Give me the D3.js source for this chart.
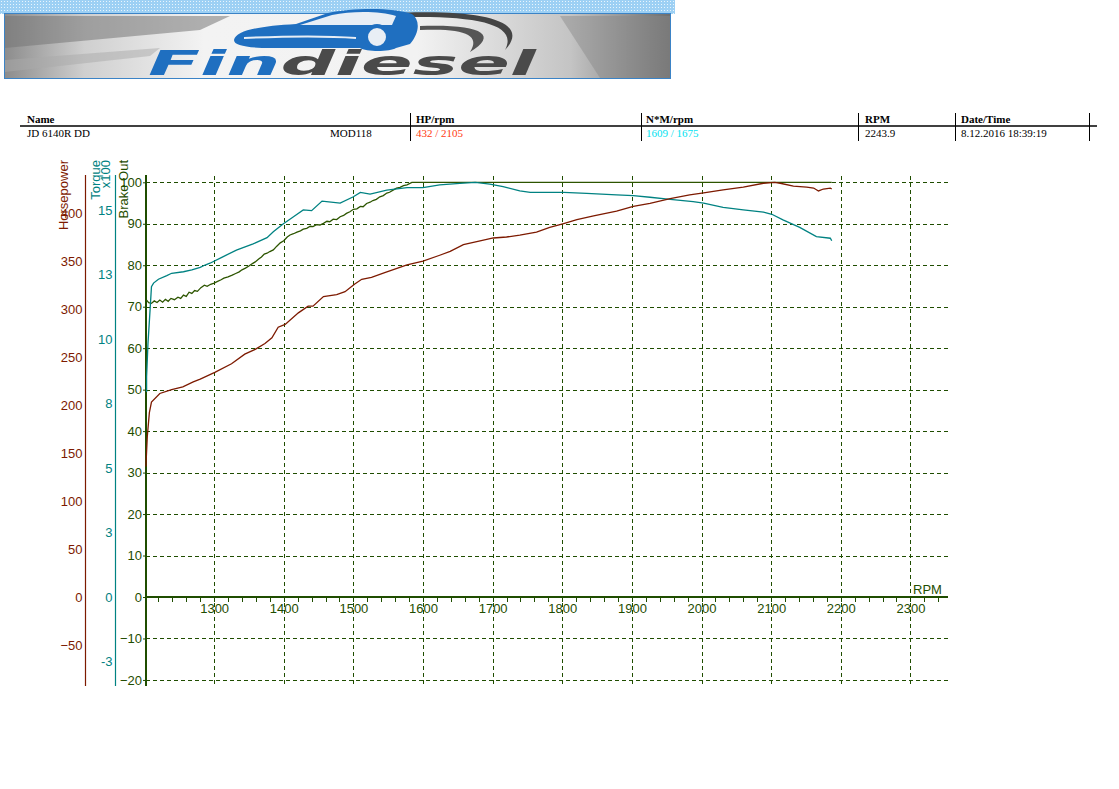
<!DOCTYPE html>
<html lang="en">
<head>
  <meta charset="utf-8">
  <title>Findiesel dyno run</title>
  <script src="https://d3js.org/d3.v7.min.js"></script>
  <style>
    body { margin: 0; background: #fff; }
    svg text { font-family: "Liberation Sans", Arial, sans-serif; }
    .hdr text { font-family: "Liberation Serif", "Times New Roman", serif; font-size: 11px; }
  </style>
</head>
<body>
<script>
// header table
var headCols = ['Name', 'HP/rpm', 'N*M/rpm', 'RPM', 'Date/Time'];
var rowVals = ['JD 6140R DD', '432 / 2105', '1609 / 1675', '2243.9', '8.12.2016 18:39:19'];
var rowModel = 'MOD118';

// horsepower curve (rpm, hp)
var hpRpm = [1202, 1204, 1207, 1210, 1222, 1239, 1255, 1270, 1280, 1301, 1325, 1344, 1359, 1373, 1383, 1392, 1402,
  1421, 1435, 1442, 1457, 1476, 1488, 1502, 1512, 1526, 1545, 1577, 1600, 1624, 1639, 1658, 1682, 1701, 1720,
  1739, 1763, 1782, 1802, 1821, 1845, 1878, 1902, 1926, 1955, 1983, 2003, 2031, 2060, 2089, 2105, 2113, 2132,
  2151, 2161, 2168, 2175, 2185, 2187];
var hpVals = [136, 167, 192, 203, 212, 216, 219, 224, 227, 234, 243, 253, 258, 264, 270, 281, 284,
  296, 303, 303, 313, 315, 318, 326, 331, 333, 338, 346, 350, 356, 360, 367, 371, 374, 375,
  377, 380, 385, 389, 393, 397, 402, 407, 410, 415, 419, 421, 424, 427, 431, 432, 431, 428,
  427, 426, 423, 425, 426, 425];

// torque curve (rpm, Nm)
var tqRpm = [1203, 1203, 1205, 1208, 1210, 1213, 1220, 1232, 1239, 1256, 1268, 1280, 1287, 1294, 1311, 1332,
  1356, 1376, 1385, 1399, 1414, 1428, 1440, 1455, 1481, 1500, 1510, 1524, 1548, 1577, 1600, 1624, 1653,
  1675, 1696, 1715, 1739, 1754, 1802, 1835, 1878, 1902, 1926, 1955, 1988, 2003, 2031, 2060, 2089, 2101,
  2117, 2141, 2165, 2185, 2187];
var tqVals = [795, 855, 984, 1114, 1204, 1218, 1233, 1247, 1256, 1262, 1269, 1279, 1288, 1295, 1318, 1346,
  1370, 1394, 1417, 1447, 1475, 1502, 1499, 1536, 1528, 1553, 1570, 1563, 1579, 1588, 1588, 1599, 1605,
  1609, 1602, 1592, 1576, 1570, 1570, 1566, 1560, 1557, 1551, 1543, 1534, 1528, 1512, 1502, 1493, 1485,
  1463, 1434, 1398, 1392, 1382];

// brake output curve (rpm, %)
var brkRpm = [1203, 1206, 1210, 1214, 1218, 1222, 1226, 1230, 1234, 1238, 1243, 1248, 1252, 1256, 1260, 1264,
  1268, 1272, 1276, 1281, 1286, 1290, 1295, 1300, 1305, 1310, 1314, 1320, 1326, 1331, 1336, 1340, 1345,
  1350, 1355, 1359, 1364, 1368, 1372, 1376, 1380, 1385, 1390, 1395, 1400, 1405, 1409, 1414, 1419, 1424,
  1428, 1433, 1438, 1442, 1447, 1452, 1457, 1462, 1466, 1471, 1476, 1481, 1486, 1490, 1495, 1500, 1505,
  1510, 1514, 1519, 1524, 1528, 1533, 1538, 1543, 1548, 1552, 1557, 1562, 1567, 1572, 1577, 1584, 2187];
var brkVals = [71.6, 71.0, 70.8, 71.4, 71.0, 71.6, 71.1, 71.8, 71.3, 72.0, 71.7, 72.3, 72.0, 72.8, 72.5, 73.5,
  73.2, 73.9, 73.7, 74.6, 75.2, 74.9, 75.4, 75.7, 76.1, 76.5, 76.9, 77.2, 77.6, 78.0, 78.4, 78.9, 79.3,
  79.8, 80.4, 80.8, 81.5, 82.0, 82.7, 82.9, 83.3, 83.7, 84.6, 85.4, 85.9, 86.8, 87.3, 87.6, 88.0, 88.3,
  88.7, 88.9, 89.4, 89.3, 89.8, 89.7, 90.1, 90.6, 90.5, 91.1, 91.0, 91.7, 92.0, 92.5, 92.9, 93.5, 93.6,
  94.2, 94.1, 94.9, 95.2, 95.6, 95.9, 96.5, 96.8, 97.4, 97.6, 98.1, 98.6, 98.8, 99.2, 99.4, 100, 100];

// axis ticks
var rpmTicks = [1300, 1400, 1500, 1600, 1700, 1800, 1900, 2000, 2100, 2200, 2300];
var brkTicks = [-20, -10, 0, 10, 20, 30, 40, 50, 60, 70, 80, 90, 100];
var hpTicks = [-50, 0, 50, 100, 150, 200, 250, 300, 350, 400];
var tqTicks = [-2.5, 0, 2.5, 5, 7.5, 10, 12.5, 15];

var hpMax = 432, tqMax = 1609;

var W = 1119, H = 789;
var cRed = '#7d1a00', cTeal = '#008282', cGreen = '#1f4d00', cBrk = '#2d5500';

var svg = d3.select('body').append('svg').attr('width', W).attr('height', H);
svg.append('rect').attr('width', W).attr('height', H).attr('fill', '#fff');

// ---- logo banner ----
var defs = svg.append('defs');
var g1 = defs.append('linearGradient').attr('id', 'bg');
[[0, '#8c8c8c'], [0.12, '#cfcfcf'], [0.3, '#f3f3f3'], [0.62, '#f2f2f2'], [0.85, '#c4c4c4'], [1, '#6e6e6e']]
  .forEach(function(s) { g1.append('stop').attr('offset', s[0]).attr('stop-color', s[1]); });
var pat = defs.append('pattern').attr('id', 'dots').attr('width', 3).attr('height', 3)
  .attr('patternUnits', 'userSpaceOnUse');
pat.append('rect').attr('width', 3).attr('height', 3).attr('fill', '#9dd0f4');
pat.append('rect').attr('x', 1).attr('y', 1).attr('width', 1).attr('height', 1).attr('fill', '#e8f5fd');

var logo = svg.append('g');
logo.append('rect').attr('x', 0).attr('y', 0).attr('width', 675).attr('height', 14).attr('fill', 'url(#dots)');
logo.append('rect').attr('x', 4.5).attr('y', 13.5).attr('width', 666).attr('height', 65)
  .attr('fill', 'url(#bg)').attr('stroke', '#3b83c6').attr('stroke-width', 1);
logo.append('path').attr('d', 'M5,16 L230,16 L200,30 L5,48 Z').attr('fill', '#777').attr('opacity', 0.55);
logo.append('path').attr('d', 'M5,60 L160,48 L150,56 L5,72 Z').attr('fill', '#aaa').attr('opacity', 0.5);
logo.append('path').attr('d', 'M560,16 L670,16 L670,78 L600,78 Z').attr('fill', '#888').attr('opacity', 0.45);
// swooshes
logo.append('path').attr('d', 'M380,14 C470,8 535,18 505,50 C520,22 470,14 380,18 Z').attr('fill', '#444');
logo.append('path').attr('d', 'M420,26 C480,24 500,34 470,52 C482,34 462,28 420,30 Z').attr('fill', '#555');
// car
logo.append('path')
  .attr('d', 'M234,40 C236,30 262,26 296,24 L328,13 C352,8 392,7 412,14 C420,20 420,32 410,44 L396,48 ' +
    'C390,52 366,52 360,48 L262,48 C244,47 234,45 234,40 Z')
  .attr('fill', '#1f6fc0');
logo.append('path').attr('d', 'M300,25 L332,15 C352,11 380,11 396,16 L392,25 Z').attr('fill', '#e8eef5');
logo.append('path').attr('d', 'M244,38 C290,36 330,36 356,38').attr('fill', 'none')
  .attr('stroke', '#e8eef5').attr('stroke-width', 2);
logo.append('circle').attr('cx', 377).attr('cy', 37).attr('r', 11).attr('fill', '#e8eef5')
  .attr('stroke', '#1f6fc0').attr('stroke-width', 4);
var lt = logo.append('text').attr('x', 148).attr('y', 75).attr('font-size', 34)
  .attr('font-weight', 'bold').attr('font-style', 'italic')
  .style('font-family', '"DejaVu Sans", sans-serif')
  .attr('textLength', 388).attr('lengthAdjust', 'spacingAndGlyphs');
lt.append('tspan').attr('fill', '#1f6fc0').text('Fin');
lt.append('tspan').attr('fill', '#4a4a4a').text('diesel');

// ---- header table ----
var hdr = svg.append('g').attr('class', 'hdr');
var colX = [27, 416, 646, 865, 961];
var sepX = [410.5, 641.5, 858.5, 955.5, 1089.5];
hdr.append('line').attr('x1', 20).attr('x2', 1097).attr('y1', 126).attr('y2', 126)
  .attr('stroke', '#000').attr('stroke-width', 1.5);
sepX.forEach(function(x) {
  hdr.append('line').attr('x1', x).attr('x2', x).attr('y1', 113).attr('y2', 141).attr('stroke', '#000');
});
var rowCol = ['#000', '#ff3a10', '#00e2f0', '#000', '#000'];
headCols.forEach(function(t, i) {
  hdr.append('text').attr('x', colX[i]).attr('y', 123).attr('font-weight', 'bold').text(t);
  hdr.append('text').attr('x', colX[i]).attr('y', 137).attr('fill', rowCol[i]).text(rowVals[i]);
});
hdr.append('text').attr('x', 330).attr('y', 137).text(rowModel);

// ---- scales ----
var x = d3.scaleLinear().domain([1200, 2354]).range([144.5, 948]);
var yB = d3.scaleLinear().domain([0, 100]).range([597, 182.3]);
var yHp = d3.scaleLinear().domain([0, hpMax]).range([597, 182.3]);
var yTq = d3.scaleLinear().domain([0, tqMax / 100]).range([597, 182.3]);
var yTop = 175, yBot = 686, x0 = 146, x1 = 948;

// grid
var grid = svg.append('g').attr('stroke', cGreen).attr('stroke-dasharray', '4,3').attr('stroke-width', 1);
grid.selectAll('line.h').data(brkTicks.filter(function(v) { return v !== 0; })).enter().append('line')
  .attr('x1', x0).attr('x2', x1)
  .attr('y1', function(d) { return Math.round(yB(d)) + 0.5; })
  .attr('y2', function(d) { return Math.round(yB(d)) + 0.5; });
grid.selectAll('line.v').data(rpmTicks).enter().append('line')
  .attr('x1', function(d) { return Math.round(x(d)) + 0.5; })
  .attr('x2', function(d) { return Math.round(x(d)) + 0.5; })
  .attr('y1', yTop + 1).attr('y2', yBot);

// x axis
var xa = svg.append('g').attr('transform', 'translate(0,597)')
  .call(d3.axisBottom(x).tickValues(rpmTicks).tickSize(0).tickPadding(7).tickFormat(d3.format('d')));
xa.select('.domain').remove();
xa.selectAll('text').attr('fill', cGreen).attr('font-size', 13).style('font-family', '"Liberation Sans", Arial, sans-serif');
svg.append('line').attr('x1', x0).attr('x2', x1).attr('y1', 597).attr('y2', 597)
  .attr('stroke', cGreen).attr('stroke-width', 2);
svg.append('g').selectAll('line').data(d3.range(1220, 2350, 20)).enter().append('line')
  .attr('x1', function(d) { return Math.round(x(d)) + 0.5; })
  .attr('x2', function(d) { return Math.round(x(d)) + 0.5; })
  .attr('y1', 597).attr('y2', 602).attr('stroke', cGreen);
svg.append('text').attr('x', 913).attr('y', 594).attr('fill', cGreen).attr('font-size', 13).text('RPM');

// left axes
function leftAxis(xp, scale, ticks, fmt, col, w, tsize, pad) {
  var g = svg.append('g').attr('transform', 'translate(' + xp + ',0)')
    .call(d3.axisLeft(scale).tickValues(ticks).tickSize(tsize).tickPadding(pad).tickFormat(fmt));
  g.select('.domain').remove();
  g.selectAll('.tick line').attr('stroke', col);
  g.selectAll('text').attr('fill', col).attr('font-size', 13)
    .style('font-family', '"Liberation Sans", Arial, sans-serif');
  svg.append('line').attr('x1', xp).attr('x2', xp).attr('y1', yTop).attr('y2', yBot)
    .attr('stroke', col).attr('stroke-width', w);
}
leftAxis(85.5, yHp, hpTicks, d3.format('d'), cRed, 1.2, 0, 3);
leftAxis(115.5, yTq, tqTicks, function(v) { return Math.sign(v) * Math.round(Math.abs(v)); }, cTeal, 1.2, 0, 3);
leftAxis(146, yB, brkTicks, d3.format('d'), cGreen, 2, 3, 1);

// axis titles
function vTitle(xp, t, col) {
  svg.append('text').attr('transform', 'translate(' + xp + ',160) rotate(-90)')
    .attr('text-anchor', 'end').attr('fill', col).attr('font-size', 13).text(t);
}
vTitle(68, 'Horsepower', cRed);
vTitle(100, 'Torque', cTeal);
vTitle(110, 'x100', cTeal);
vTitle(128, 'Brake Out', cGreen);

// curves
function curve(rpms, vals, yfn, col) {
  var line = d3.line().x(function(d, i) { return x(rpms[i]); }).y(function(d) { return yfn(d); });
  svg.append('path').datum(vals).attr('d', line).attr('fill', 'none')
    .attr('stroke', col).attr('stroke-width', 1.3);
}
curve(brkRpm, brkVals, yB, cBrk);
curve(tqRpm, tqVals, function(v) { return yTq(v / 100); }, cTeal);
curve(hpRpm, hpVals, yHp, cRed);
</script>
</body>
</html>
